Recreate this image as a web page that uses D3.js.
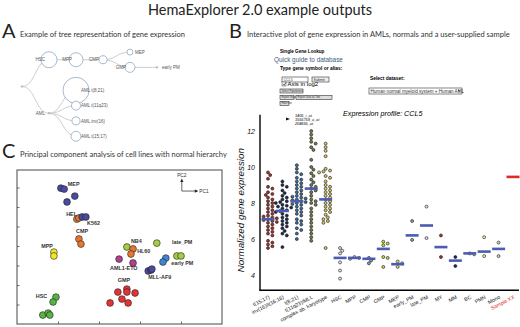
<!DOCTYPE html>
<html lang="en">
<head>
<meta charset="UTF-8">
<title>HemaExplorer 2.0 example outputs</title>
<script src="https://cdn.jsdelivr.net/npm/d3@7/dist/d3.min.js"></script>
<style>
  body { margin: 0; background: #fff; }
  svg { display: block; font-family: Lato, "Open Sans", sans-serif; }
  .ui, .plotb { font-family: "Liberation Sans", Arial, sans-serif; }
  .heading { fill: #222; }
</style>
</head>
<body>
<svg id="fig" width="520" height="327"></svg>
<script>
// ---- panel A: tree (name, parent, expression) ----
const treeNames   = ["root", "HSC", "MPP", "CMP", "MEP", "GMP", "early PM", "AML", "AML t(8;21)", "AML t(11q23)", "AML inv(16)", "AML t(15;17)"];
const treeParents = [null, "root", "HSC", "MPP", "CMP", "CMP", "GMP", "root", "AML", "AML", "AML", "AML"];
const treeExpr    = [0.4, 38, 29, 9.5, 5.3, 14.8, 0.4, 0.4, 100, 12, 9.5, 14.8];

// ---- panel B: strip chart of CCL5 ----
const bCategories = ["t(15;17)", "inv(16)/t(16;16)", "t(8;21)", "t(11q23)/MLL", "complex ab. karyotype",
  "HSC", "MPP", "CMP", "GMP", "MEP", "early_PM", "late_PM", "MY", "MM", "BC", "PMN", "Mono", "Sample XX"];
const bMedians = [7.1, 7.56, 8.1, 8.8, 8.2, 4.95, 4.95, 4.9, 5.45, 4.6, 6.2, 6.75, 5.55, 4.8, 5.2, 5.3, 5.45, 9.45];
const bSamples = [
  [9.7, 9.55, 9.35, 8.9, 8.8, 8.6, 8.5, 8.45, 8.3, 8.2, 8.1, 8.0, 7.9, 7.8, 7.7, 7.6, 7.5, 7.4, 7.3, 7.25, 7.2, 7.15, 7.1, 7.05, 7.0, 6.95, 6.9, 6.8, 6.7, 6.6, 6.5, 6.4, 6.3, 6.2, 5.9, 5.8, 5.7, 5.6, 5.5],
  [9.2, 9.0, 8.9, 8.7, 8.55, 8.4, 8.3, 8.2, 8.1, 8.05, 8.0, 7.9, 7.85, 7.8, 7.75, 7.7, 7.6, 7.55, 7.5, 7.4, 7.3, 7.2, 7.1, 7.0, 6.9, 6.8, 6.7, 6.6, 6.45, 6.3, 6.2, 5.55],
  [10.1, 9.9, 9.7, 9.6, 9.4, 9.3, 9.2, 9.1, 9.0, 8.9, 8.8, 8.7, 8.6, 8.5, 8.4, 8.35, 8.3, 8.25, 8.2, 8.15, 8.1, 8.05, 8.0, 7.95, 7.9, 7.8, 7.7, 7.6, 7.5, 7.4, 7.3, 7.1, 7.0, 6.9, 6.8, 6.6, 6.5, 6.3, 6.0],
  [12.0, 11.8, 11.6, 11.4, 11.3, 11.1, 10.95, 10.4, 10.0, 9.85, 9.65, 9.5, 9.3, 9.15, 9.0, 8.9, 8.8, 8.7, 8.6, 8.4, 8.2, 8.1, 8.0, 7.9, 7.7, 7.5, 7.3, 7.1, 6.9, 6.7, 6.5, 6.3, 6.1, 5.9],
  [11.3, 11.1, 10.9, 10.6, 9.9, 9.8, 9.75, 9.7, 9.5, 9.4, 9.2, 9.0, 8.9, 8.8, 8.7, 8.6, 8.5, 8.4, 8.3, 8.2, 8.1, 8.0, 7.9, 7.8, 7.7, 7.6, 7.5, 7.35, 7.2, 7.1, 7.0, 6.9, 5.5],
  [5.5, 5.35, 5.2, 4.7, 4.25, 3.8],
  [5.0, 4.95, 4.9],
  [4.95, 4.8, 4.65],
  [5.85, 5.75, 5.65, 5.0, 4.95, 4.45],
  [4.75, 4.65, 4.45],
  [7.0, 5.95],
  [7.8, 6.05],
  [6.2, 5.0],
  [5.0, 4.5],
  [5.2, 5.15],
  [6.1, 5.05],
  [5.8, 5.05],
  []
];
const bYTicks = [4, 6, 8, 10, 12];
const probeNames = ["1405_i_at", "1555759_a_at", "204655_at"];

// ---- panel C: PCA ----
const pcaGroups = ["MEP", "HEL", "K562", "CMP", "MPP", "HSC", "GMP", "AML1-ETO", "NB4", "HL60", "late_PM", "early PM", "PM", "MLL-AF9"];
const pcaPoints = [
  [[0.07, 5.97], [0.15, 5.92], [0.41, 5.56], [0.22, 5.26]],
  [[0.46, 4.38], [0.51, 4.44]],
  [[0.59, 4.49], [0.68, 4.49]],
  [[0.51, 3.36], [0.56, 3.10]],
  [[-0.10, 2.69], [-0.10, 2.49]],
  [[-0.05, 0.38], [-0.12, 0.13], [-0.37, -0.54], [-0.24, -0.44], [-0.20, -0.54]],
  [[1.27, 0.08], [1.46, 0.64], [1.56, 0.28], [1.68, 0.79], [1.68, 0.64], [1.71, 0.08], [1.88, 0.59]],
  [[1.49, 2.33], [1.83, 2.13]],
  [[1.68, 2.95]],
  [[1.83, 2.85], [1.78, 2.59]],
  [[2.41, 3.15]],
  [[2.90, 2.49], [3.00, 2.49]],
  [[2.63, 2.38], [2.56, 2.18]],
  [[2.20, 1.72], [2.27, 1.77], [2.29, 1.82]]
];
const pcaLabels = [
  ["MEP", 0.24, 6.08], ["HEL", 0.20, 4.54], ["K562", 0.71, 4.08], ["CMP", 0.44, 3.67],
  ["MPP", -0.41, 2.90], ["HSC", -0.54, 0.33], ["GMP", 1.46, 1.15], ["AML1-ETO", 1.27, 1.77],
  ["NB4", 1.78, 3.15], ["HL60", 1.93, 2.64], ["late_PM", 2.78, 3.10], ["early PM", 2.76, 2.03],
  ["MLL-AF9", 2.20, 1.31]
];

// colours
const bFill = ["#a3322a", "#1c2752", "#3e6b9c", "#6f7b47", "#d2c365", "#e2e2e2", "#cfcfcf", "#8c98a8", "#c3d24a",
  "#d4dc6a", "#9a9a9a", "#dcdcdc", "#a3322a", "#1c2752", "#c4c4c4", "#ecec9c", "#cccccc", "#e02828"];
const pcaColor = {
  "MEP": "#4a4a9e", "HEL": "#e5782f", "K562": "#4a4a9e", "CMP": "#e5782f", "MPP": "#f0e62a",
  "HSC": "#57b441", "GMP": "#e23434", "AML1-ETO": "#b0418f", "NB4": "#a6cb44", "HL60": "#e5782f",
  "late_PM": "#a6cb44", "early PM": "#a6cb44", "PM": "#3f86d2", "MLL-AF9": "#4a4a9e"
};

const svg = d3.select("#fig");

// title and panel headings
svg.append("text").attr("class", "heading").attr("x", 260).attr("y", 15)
  .attr("text-anchor", "middle").attr("font-size", 14.5).attr("fill", "#333")
  .text("HemaExplorer 2.0 example outputs");

const panels = [
  ["A", 2, 38, "Example of tree representation of gene expression"],
  ["B", 229, 38, "Interactive plot of gene expression in AMLs, normals and a user-supplied sample"],
  ["C", 2, 158, "Principal component analysis of cell lines with normal hierarchy"]
];
panels.forEach(p => {
  svg.append("text").attr("x", p[1]).attr("y", p[2]).attr("font-size", 20).attr("fill", "#222").text(p[0]);
  svg.append("text").attr("x", p[1] + 18).attr("y", p[2] - 1).attr("font-size", 7.5).attr("fill", "#333").text(p[3]);
});

// ===== panel A =====
const root = d3.stratify()
  .id((d, i) => treeNames[i]).parentId((d, i) => treeParents[i])(treeNames.map((n, i) => ({ name: n, expr: treeExpr[i] })));
d3.tree().nodeSize([15.3, 27])(root);
const rA = d3.scaleSqrt().domain([0, 100]).range([0, 13]);
const gA = svg.append("g").attr("transform", "translate(22,86.5)");
gA.selectAll("path.link").data(root.links()).join("path")
  .attr("fill", "none").attr("stroke", "#cfcfcf").attr("stroke-width", 1)
  .attr("d", d3.linkHorizontal().x(d => d.y).y(d => d.x));
const nodeA = gA.selectAll("g.node").data(root.descendants()).join("g")
  .attr("transform", d => `translate(${d.y},${d.x})`);
nodeA.append("circle").attr("r", d => Math.max(0.8, rA(d.data.expr)))
  .attr("fill", "#fff").attr("stroke", "#8fa8c4").attr("stroke-width", 0.8);
nodeA.filter(d => d.depth > 0).append("text")
  .attr("class", "ui").attr("font-size", 4.5).attr("fill", "#555").attr("dy", "0.35em")
  .attr("x", d => d.children ? -4 : 5)
  .attr("text-anchor", d => d.children ? "end" : "start")
  .text(d => d.data.name);

// ===== panel B: web form =====
const ui = svg.append("g").attr("class", "ui");
ui.append("text").attr("x", 280).attr("y", 53).attr("font-size", 4.6).attr("font-weight", "bold").text("Single Gene Lookup");
ui.append("text").attr("x", 274).attr("y", 62).attr("font-size", 6.4).attr("fill", "#3d5d7d").text("Quick guide to database");
ui.append("text").attr("x", 280).attr("y", 69.5).attr("font-size", 4.9).attr("font-weight", "bold").text("Type gene symbol or alias:");
ui.append("text").attr("x", 370).attr("y", 80).attr("font-size", 4.9).attr("font-weight", "bold").text("Select dataset:");
const boxes = [
  [282, 77, 26, 5, "CCL5", "#fff"], [312, 77, 17, 5, "Submit", "#eee"],
  [280, 89, 23, 4, "Select Populations", "#ddd"], [280, 95.5, 14, 4, "Export Graph", "#ddd"],
  [296, 95.5, 36, 4, "Export Data as Text", "#ddd"], [280, 101.5, 9, 4, "Hide text", "#ddd"],
  [369, 88, 93, 6, "Human normal myeloid system + Human AML", "#fff"]
];
boxes.forEach(b => {
  ui.append("rect").attr("x", b[0]).attr("y", b[1]).attr("width", b[2]).attr("height", b[3])
    .attr("fill", b[5]).attr("stroke", "#333").attr("stroke-width", 0.6);
  ui.append("text").attr("x", b[0] + 1.5).attr("y", b[1] + b[3] - 1.1).attr("font-size", b[3] - 1.4)
    .attr("fill", "#333").text(b[4]);
});
ui.append("path").attr("d", "M458,90 l2,0 l-1,2 z").attr("fill", "#333");
ui.append("rect").attr("x", 282).attr("y", 82).attr("width", 4).attr("height", 4)
  .attr("fill", "#fff").attr("stroke", "#444").attr("stroke-width", 0.5);
ui.append("path").attr("d", "M282.8,84 l1.2,1.3 l1.8,-2.8").attr("fill", "none").attr("stroke", "#222").attr("stroke-width", 0.7);
ui.append("text").attr("x", 287.5).attr("y", 86).attr("font-size", 6).text("Axis in log2");

// ===== panel B: plot =====
const pb = svg.append("g").attr("class", "plotb");
const xB = d3.scalePoint().domain(bCategories).range([268, 513]);
const yB = d3.scaleLinear().domain([4, 12]).range([275, 131]);

pb.append("text").attr("x", 343).attr("y", 116).attr("font-size", 7.2).attr("font-style", "italic")
  .text("Expression profile: CCL5");
pb.append("path").attr("d", "M286,117.5 l4,1.5 l-4,1.5 z").attr("fill", "#111");
pb.selectAll("text.probe").data(probeNames).join("text").attr("class", "probe")
  .attr("x", 295).attr("y", (d, i) => 116.5 + i * 4).attr("font-size", 3.8).attr("font-style", "italic").text(d => d);

// axes
pb.append("line").attr("x1", 260).attr("x2", 260).attr("y1", yB(12.9)).attr("y2", yB(3.15))
  .attr("stroke", "#000").attr("stroke-width", 1.4);
pb.append("line").attr("x1", 259.3).attr("x2", 519).attr("y1", yB(3.15)).attr("y2", yB(3.15))
  .attr("stroke", "#000").attr("stroke-width", 1.4);
const yAxis = pb.append("g").attr("transform", "translate(255,0)")
  .call(d3.axisLeft(yB).tickValues(bYTicks).tickSize(0).tickPadding(0));
yAxis.select(".domain").remove();
yAxis.selectAll("text").attr("font-size", 7).attr("font-style", "italic")
  .attr("font-family", "Liberation Sans, Arial, sans-serif").attr("fill", "#111");
pb.append("text").attr("transform", `translate(244,${yB(7.6)}) rotate(-90)`)
  .attr("text-anchor", "middle").attr("font-size", 9.8).attr("font-style", "italic").attr("fill", "#111")
  .text("Normalized gene expression");

// x labels
pb.selectAll("text.xlab").data(bCategories).join("text").attr("class", "xlab")
  .attr("transform", d => `translate(${xB(d) + 2},${yB(3.15) + 8}) rotate(-27)`)
  .attr("text-anchor", "end").attr("font-size", 5.2)
  .attr("fill", d => d === "Sample XX" ? "#e02828" : "#111").text(d => d);

// swarm placement for points
function swarm(vals, cx) {
  const placed = [];
  vals.map(v => ({ v, y: yB(v) })).sort((a, b) => a.y - b.y).forEach(p => {
    for (let k = 0; k < 14; k++) {
      const x = cx + (k % 2 ? 1 : -1) * Math.ceil(k / 2) * 2.2;
      if (!placed.some(q => Math.hypot(q.x - x, q.y - p.y) < 3.0)) { p.x = x; break; }
    }
    if (p.x == null) p.x = cx;
    placed.push(p);
  });
  return placed;
}
bCategories.forEach((c, i) => {
  const pts = swarm(bSamples[i], xB(c));
  pb.append("g").selectAll("circle").data(pts).join("circle")
    .attr("cx", d => d.x).attr("cy", d => d.y).attr("r", 1.5)
    .attr("fill", bFill[i]).attr("stroke", "#1a1a1a").attr("stroke-width", 0.6);
});
pb.selectAll("rect.med").data(bCategories).join("rect").attr("class", "med")
  .attr("x", d => xB(d) - 6.5).attr("y", (d, i) => yB(bMedians[i]) - 1.3)
  .attr("width", 13).attr("height", 2.6)
  .attr("fill", d => d === "Sample XX" ? "#e02828" : "#4a5db3");

// ===== panel C =====
const xC = d3.scaleLinear().domain([-1, 4]).range([17, 222]);
const yC = d3.scaleLinear().domain([-1, 6.9]).range([324, 170]);
const gC = svg.append("g");
gC.append("rect").attr("x", 17).attr("y", 170).attr("width", 205).attr("height", 154)
  .attr("fill", "none").attr("stroke", "#666").attr("stroke-width", 1.2);
const axC1 = gC.append("g").attr("transform", "translate(0,324)")
  .call(d3.axisBottom(xC).tickValues([0, 1, 2, 3]).tickSize(-2.5).tickFormat(""));
const axC2 = gC.append("g").attr("transform", "translate(17,0)")
  .call(d3.axisLeft(yC).tickValues([0, 1, 2, 3, 4, 5, 6]).tickSize(-2.5).tickFormat(""));
[axC1, axC2].forEach(a => { a.select(".domain").remove(); a.selectAll("line").attr("stroke", "#666"); });

pcaGroups.forEach((g, i) => {
  gC.append("g").selectAll("circle").data(pcaPoints[i]).join("circle")
    .attr("cx", d => xC(d[0])).attr("cy", d => yC(d[1])).attr("r", 3.4)
    .attr("fill", pcaColor[g]).attr("stroke", "#222").attr("stroke-width", 0.6);
});
gC.selectAll("text.pl").data(pcaLabels).join("text").attr("class", "ui")
  .attr("x", d => xC(d[1])).attr("y", d => yC(d[2])).attr("font-size", 5.4).attr("font-weight", "bold")
  .attr("fill", "#333").text(d => d[0]);

// PC direction marker
const o = [xC(3.02), yC(5.82)];
gC.append("path").attr("d", `M${o[0]},${o[1] - 11} L${o[0]},${o[1]} L${o[0] + 15},${o[1]}`)
  .attr("fill", "none").attr("stroke", "#222").attr("stroke-width", 0.7);
gC.append("path").attr("d", `M${o[0] - 1.6},${o[1] - 9} L${o[0]},${o[1] - 12.5} L${o[0] + 1.6},${o[1] - 9} Z`).attr("fill", "#222");
gC.append("path").attr("d", `M${o[0] + 13},${o[1] - 1.6} L${o[0] + 16.5},${o[1]} L${o[0] + 13},${o[1] + 1.6} Z`).attr("fill", "#222");
gC.append("text").attr("class", "ui").attr("x", o[0]).attr("y", o[1] - 14).attr("text-anchor", "middle")
  .attr("font-size", 4.8).attr("fill", "#333").text("PC2");
gC.append("text").attr("class", "ui").attr("x", o[0] + 17.5).attr("y", o[1] + 1.8)
  .attr("font-size", 4.8).attr("fill", "#333").text("PC1");
</script>
</body>
</html>
